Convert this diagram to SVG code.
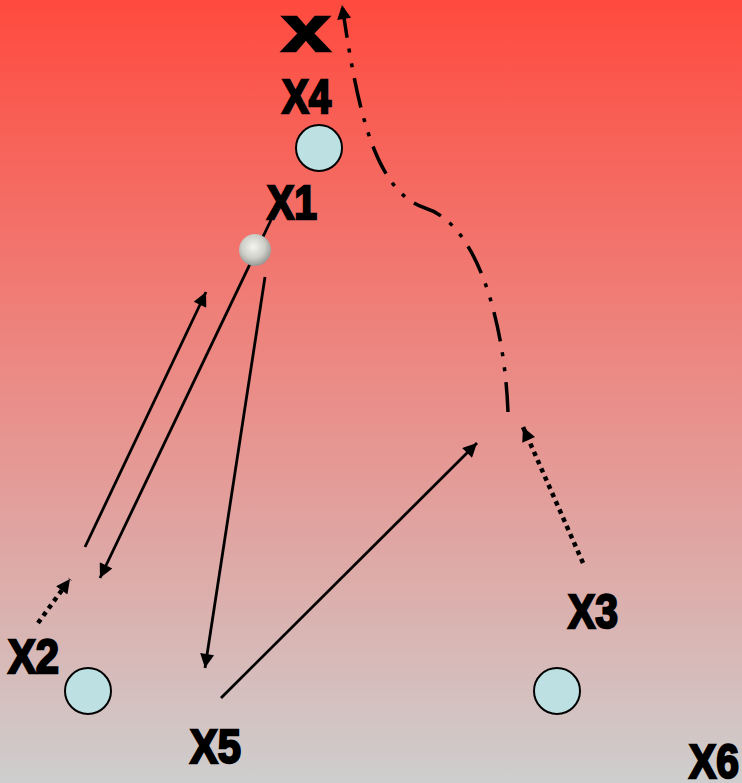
<svg xmlns="http://www.w3.org/2000/svg" width="742" height="783" viewBox="0 0 742 783">
  <defs>
    <linearGradient id="bg" x1="0" y1="0" x2="0" y2="1">
      <stop offset="0" stop-color="#ff4a3e"/>
      <stop offset="0.5" stop-color="#ea8d88"/>
      <stop offset="1" stop-color="#cecece"/>
    </linearGradient>
    <radialGradient id="ball" cx="0.45" cy="0.4" r="0.65">
      <stop offset="0" stop-color="#f4f4f0"/>
      <stop offset="0.55" stop-color="#cfcfca"/>
      <stop offset="1" stop-color="#8c8c88"/>
    </radialGradient>
    <marker id="ah" viewBox="0 0 10 10" refX="10" refY="5" markerWidth="17" markerHeight="14" markerUnits="userSpaceOnUse" orient="auto">
      <path d="M0,0 L10,5 L0,10 z" fill="#000"/>
    </marker>
  </defs>
  <style>
    .lbl { font-family: "Liberation Sans", Arial, sans-serif; font-weight: bold; font-size: 48px; fill: #000; stroke: #000; stroke-width: 2.4px; }
    .big { font-size: 64px; }
    .node { fill: #bde0e3; stroke: #000; stroke-width: 2; }
    .solid { fill: none; stroke: #000; stroke-width: 2.8; marker-end: url(#ah); }
    .dotted { fill: none; stroke: #000; stroke-width: 4.5; stroke-dasharray: 4.5 4.5; marker-end: url(#ah); }
    .dashdot { fill: none; stroke: #000; stroke-width: 3.5; stroke-dasharray: 30 11 4 11 4 11; marker-end: url(#ah); }
  </style>
  <rect x="0" y="0" width="742" height="783" fill="url(#bg)"/>

  <g id="connectors">
    <line class="solid" x1="85" y1="547" x2="206" y2="292"/>
    <line class="solid" x1="271" y1="220" x2="100" y2="578"/>
    <line class="solid" x1="265" y1="277" x2="205" y2="668"/>
    <line class="solid" x1="221" y1="698" x2="477" y2="443"/>
    <line class="dotted" x1="583" y1="563" x2="523" y2="427"/>
    <line class="dotted" x1="38" y1="623" x2="70" y2="579"/>
    <path class="dashdot" d="M 508 412 C 505 330, 480 225, 425 208 C 370 190, 355 90, 342 5"/>
  </g>

  <g id="node-x">
    <text class="lbl big" x="282" y="51" textLength="48" lengthAdjust="spacingAndGlyphs">x</text>
  </g>
  <g id="node-X4">
    <circle class="node" cx="319" cy="148" r="23"/>
    <text class="lbl" x="282" y="113" textLength="49" lengthAdjust="spacingAndGlyphs">X4</text>
  </g>
  <g id="node-X1">
    <circle cx="255" cy="250" r="16" fill="url(#ball)"/>
    <text class="lbl" x="267" y="219" textLength="50" lengthAdjust="spacingAndGlyphs">X1</text>
  </g>
  <g id="node-X2">
    <circle class="node" cx="88" cy="691" r="23"/>
    <text class="lbl" x="8" y="673" textLength="51" lengthAdjust="spacingAndGlyphs">X2</text>
  </g>
  <g id="node-X3">
    <circle class="node" cx="557" cy="691" r="23"/>
    <text class="lbl" x="568" y="628" textLength="50" lengthAdjust="spacingAndGlyphs">X3</text>
  </g>
  <g id="node-X5">
    <text class="lbl" x="190" y="763" textLength="51" lengthAdjust="spacingAndGlyphs">X5</text>
  </g>
  <g id="node-X6">
    <text class="lbl" x="689" y="778" textLength="50" lengthAdjust="spacingAndGlyphs">X6</text>
  </g>
</svg>
